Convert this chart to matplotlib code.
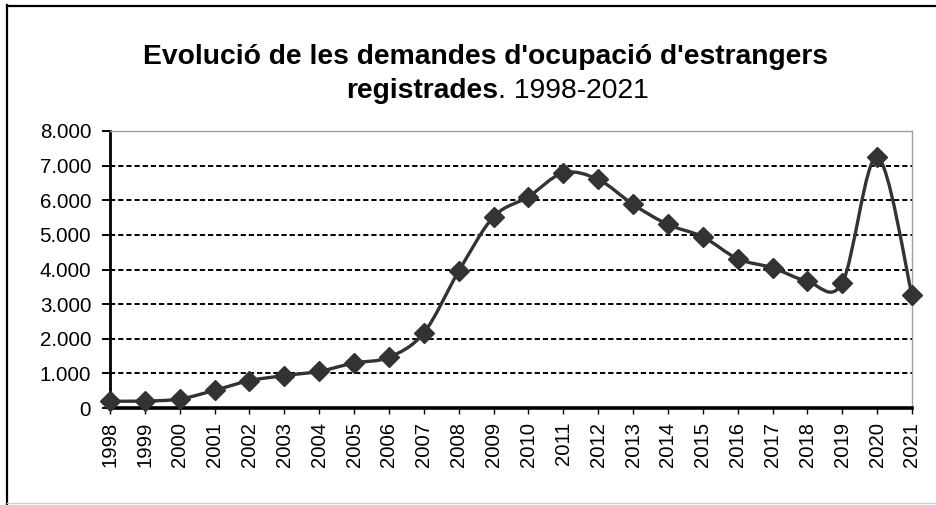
import matplotlib
matplotlib.use("Agg")
import matplotlib.pyplot as plt
from matplotlib.path import Path
from matplotlib.patches import PathPatch
from matplotlib.lines import Line2D
import numpy as np

years = [str(y) for y in range(1998, 2022)]
values = [200, 200, 260, 510, 790, 935, 1060, 1300, 1465, 2170, 3950, 5520,
          6100, 6790, 6600, 5880, 5300, 4945, 4310, 4050, 3660, 3615, 7250, 3260]
yticks = [0, 1000, 2000, 3000, 4000, 5000, 6000, 7000, 8000]
ytick_labels = ["0", "1.000", "2.000", "3.000", "4.000", "5.000", "6.000", "7.000", "8.000"]
title_bold1 = "Evolució de les demandes d'ocupació d'estrangers"
title_bold2 = "registrades"
title_reg2 = ". 1998-2021"

plt.rcParams['font.family'] = ['Liberation Sans', 'DejaVu Sans']

fig = plt.figure(figsize=(9.36, 5.05), dpi=100)
W, H = 936, 505
ax = fig.add_axes([110 / W, 1 - 408 / H, (912 - 110) / W, (408 - 131) / H])

x = np.arange(len(values), dtype=float)
y = np.array(values, dtype=float)

# smooth curve (Catmull-Rom -> cubic Bezier, like Excel smoothed lines)
verts = [(x[0], y[0])]
codes = [Path.MOVETO]
n = len(x)
for i in range(n - 1):
    p0 = np.array([x[max(i - 1, 0)], y[max(i - 1, 0)]])
    p1 = np.array([x[i], y[i]])
    p2 = np.array([x[i + 1], y[i + 1]])
    p3 = np.array([x[min(i + 2, n - 1)], y[min(i + 2, n - 1)]])
    c1 = p1 + (p2 - p0) / 6.0
    c2 = p2 - (p3 - p1) / 6.0
    verts += [tuple(c1), tuple(c2), tuple(p2)]
    codes += [Path.CURVE4, Path.CURVE4, Path.CURVE4]
line_color = "#333333"
ax.add_patch(PathPatch(Path(verts, codes), facecolor="none", edgecolor=line_color,
                       lw=2.4, capstyle="round", joinstyle="round", zorder=3, clip_on=False))
ax.plot(x, y, linestyle="none", marker="D", markersize=10, color=line_color,
        markeredgecolor=line_color, zorder=4, clip_on=False)

ax.set_xlim(0, n - 1)
ax.set_ylim(0, 8000)
ax.set_yticks(yticks)
ax.set_yticklabels(ytick_labels, fontsize=14.8)
ax.set_xticks(x)
ax.set_xticklabels(years, rotation=90, fontsize=14.6)

for v in yticks[1:-1]:
    ax.axhline(v, color="black", lw=1.4, linestyle=(0, (2.7, 1.5)), zorder=1)

for s in ["top", "right"]:
    ax.spines[s].set_color("#a0a0a0")
    ax.spines[s].set_linewidth(1.0)
ax.spines["left"].set_linewidth(2.0)
ax.spines["bottom"].set_linewidth(2.6)
ax.tick_params(axis="y", direction="out", length=6, width=1.4, pad=7.5, colors="black")
ax.tick_params(axis="x", direction="out", length=4, width=1.0, pad=6, colors="black")

# outer frame (left/top black, bottom light gray)
fig.add_artist(Line2D([6.5 / W, 6.5 / W], [0, 1 - 5 / H], transform=fig.transFigure, color="black", lw=1.6))
fig.add_artist(Line2D([6.5 / W, 1], [1 - 5.5 / H, 1 - 5.5 / H], transform=fig.transFigure, color="black", lw=1.6))
fig.add_artist(Line2D([6.5 / W, 1], [1 - 503 / H, 1 - 503 / H], transform=fig.transFigure, color="#d0d0d0", lw=1.0))

# title
tsize = 20.3
fig.text(485 / W, 1 - 64 / H, title_bold1, ha="center", va="baseline", fontsize=tsize, fontweight="bold")
fig.canvas.draw()
r = fig.canvas.get_renderer()
t1 = fig.text(0, 0, title_bold2, fontsize=tsize, fontweight="bold", va="baseline")
t2 = fig.text(0, 0, title_reg2, fontsize=tsize, va="baseline")
w1 = t1.get_window_extent(r).width
w2 = t2.get_window_extent(r).width
cx = 497
ybase = 1 - 98 / H
x0 = cx - (w1 + w2) / 2
t1.set_position((x0 / W, ybase))
t2.set_position(((x0 + w1) / W, ybase))

fig.savefig("out.png", dpi=100)
